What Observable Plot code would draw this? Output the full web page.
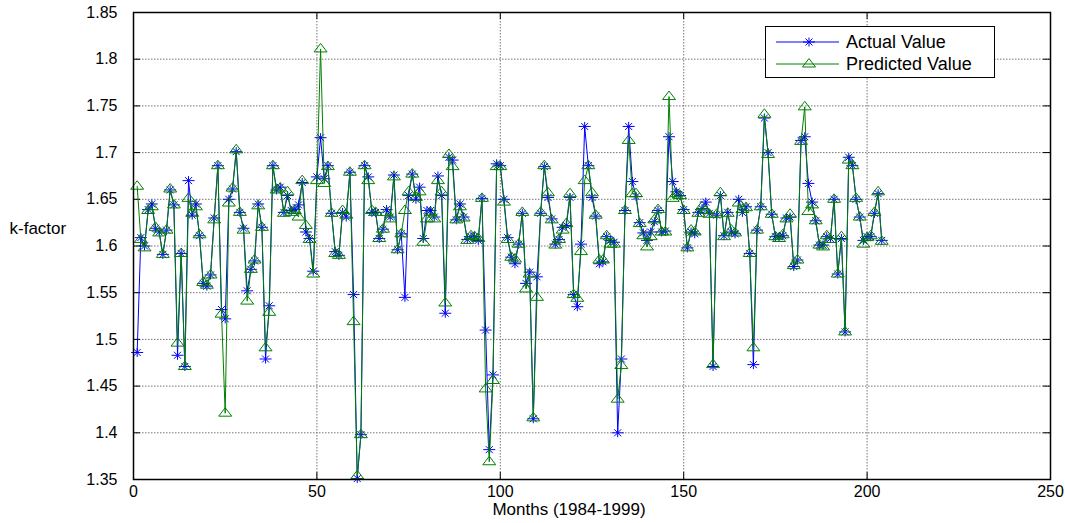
<!DOCTYPE html>
<html><head><meta charset="utf-8">
<script src="https://cdn.jsdelivr.net/npm/d3@7"></script>
<script src="https://cdn.jsdelivr.net/npm/@observablehq/plot@0.6"></script>
<style>
html,body{margin:0;padding:0;background:#fff;}
#wrap{position:relative;width:1065px;height:523px;overflow:hidden;}
#legend{position:absolute;left:765px;top:26px;width:228px;height:50px;border:1.5px solid #000;background:#fff;font-family:"Liberation Sans",Arial,sans-serif;font-size:18px;color:#000;}
#legend .row{position:absolute;left:0;height:20px;display:flex;align-items:center;}
#legend svg{display:block;}
#legend span{margin-left:6px;white-space:nowrap;}
</style></head><body><div id="wrap"></div>
<script>
// Series (months 1..204)
const actual = [
1.486,1.609,1.600,1.639,1.645,1.619,1.615,1.591,1.617,1.660,
1.644,1.483,1.592,1.471,1.670,1.633,1.645,1.611,1.560,1.557,
1.569,1.630,1.686,1.532,1.522,1.650,1.661,1.701,1.636,1.619,
1.552,1.575,1.584,1.645,1.620,1.479,1.536,1.686,1.660,1.663,
1.636,1.654,1.638,1.639,1.644,1.668,1.615,1.608,1.573,1.674,
1.716,1.672,1.686,1.635,1.594,1.590,1.636,1.631,1.679,1.548,
1.351,1.398,1.686,1.674,1.636,1.636,1.608,1.618,1.639,1.631,
1.676,1.596,1.613,1.545,1.654,1.677,1.650,1.663,1.608,1.638,
1.638,1.631,1.675,1.654,1.528,1.695,1.692,1.628,1.645,1.631,
1.607,1.610,1.610,1.606,1.651,1.510,1.382,1.462,1.688,1.686,
1.650,1.609,1.588,1.581,1.602,1.635,1.560,1.572,1.415,1.567,
1.635,1.685,1.652,1.629,1.602,1.607,1.620,1.622,1.652,1.548,
1.535,1.602,1.728,1.686,1.652,1.632,1.581,1.583,1.610,1.606,
1.604,1.400,1.479,1.638,1.728,1.669,1.653,1.625,1.614,1.606,
1.615,1.626,1.638,1.615,1.616,1.717,1.669,1.658,1.654,1.639,
1.598,1.615,1.613,1.636,1.640,1.647,1.635,1.471,1.633,1.654,
1.611,1.636,1.615,1.613,1.650,1.636,1.642,1.592,1.473,1.617,
1.642,1.737,1.700,1.634,1.610,1.610,1.611,1.630,1.631,1.578,
1.585,1.713,1.717,1.667,1.647,1.627,1.601,1.601,1.610,1.608,
1.650,1.570,1.608,1.508,1.695,1.686,1.650,1.631,1.606,1.610,
1.610,1.635,1.656,1.606
];
const predicted = [
1.664,1.607,1.598,1.638,1.642,1.620,1.614,1.591,1.617,1.661,
1.644,1.496,1.592,1.471,1.651,1.635,1.642,1.612,1.561,1.558,
1.569,1.628,1.686,1.527,1.421,1.646,1.662,1.703,1.636,1.617,
1.541,1.575,1.585,1.643,1.620,1.491,1.529,1.686,1.660,1.662,
1.635,1.658,1.636,1.638,1.631,1.670,1.622,1.607,1.570,1.670,
1.811,1.667,1.685,1.635,1.592,1.590,1.638,1.633,1.679,1.519,
1.354,1.398,1.686,1.670,1.638,1.636,1.608,1.618,1.636,1.629,
1.674,1.596,1.613,1.638,1.658,1.677,1.652,1.658,1.604,1.629,
1.636,1.629,1.670,1.658,1.539,1.698,1.685,1.628,1.642,1.630,
1.606,1.611,1.610,1.608,1.651,1.447,1.369,1.456,1.685,1.685,
1.647,1.607,1.588,1.586,1.602,1.636,1.554,1.570,1.416,1.545,
1.636,1.686,1.657,1.628,1.601,1.607,1.617,1.624,1.656,1.548,
1.544,1.594,1.670,1.686,1.657,1.633,1.585,1.585,1.611,1.602,
1.602,1.436,1.472,1.638,1.713,1.656,1.656,1.624,1.611,1.599,
1.610,1.628,1.639,1.615,1.615,1.760,1.651,1.656,1.654,1.638,
1.598,1.617,1.615,1.635,1.642,1.638,1.634,1.473,1.634,1.657,
1.610,1.635,1.617,1.614,1.646,1.639,1.641,1.592,1.491,1.617,
1.642,1.741,1.698,1.634,1.610,1.608,1.612,1.629,1.634,1.579,
1.585,1.712,1.749,1.637,1.644,1.627,1.601,1.599,1.611,1.607,
1.650,1.570,1.610,1.508,1.692,1.686,1.651,1.631,1.602,1.609,
1.611,1.636,1.658,1.605
];
const seriesNames = ["Actual Value", "Predicted Value"];
const seriesColors = ["#0000ff", "#008000"];
const xTicks = [0, 50, 100, 150, 200, 250];
const yTicks = [1.35, 1.4, 1.45, 1.5, 1.55, 1.6, 1.65, 1.7, 1.75, 1.8, 1.85];
const xLabel = "Months (1984-1999)";
const yLabel = "k-factor";

const dataA = actual.map((v, i) => ({month: i + 1, value: v}));
const dataP = predicted.map((v, i) => ({month: i + 1, value: v}));

// MATLAB-like markers
const starSym = {draw(c) {
  c.moveTo(-6, 0); c.lineTo(6, 0);
  c.moveTo(0, -4.5); c.lineTo(0, 4.5);
  c.moveTo(-3.5, -3.5); c.lineTo(3.5, 3.5);
  c.moveTo(-3.5, 3.5); c.lineTo(3.5, -3.5);
}};
const triSym = {draw(c) {
  c.moveTo(0, -5.5); c.lineTo(6.5, 3); c.lineTo(-6.5, 3); c.closePath();
}};

const x0 = xTicks[0], x1 = xTicks[xTicks.length - 1];
const y0 = yTicks[0], y1 = yTicks[yTicks.length - 1];
const tickLenY = (y1 - y0) * 7 / 467;
const tickLenX = (x1 - x0) * 7 / 917;
const sans = "'Liberation Sans', Arial, sans-serif";

const chart = Plot.plot({
  width: 1065, height: 523,
  marginLeft: 133, marginRight: 15, marginTop: 12, marginBottom: 44,
  x: {domain: [x0, x1]},
  y: {domain: [y0, y1]},
  style: {fontFamily: sans, fontSize: "16px", background: "#fff", color: "#000"},
  marks: [
    Plot.gridX(xTicks.slice(1, -1), {stroke: "#666", strokeOpacity: 0.9, strokeDasharray: "1.5,1.5"}),
    Plot.gridY(yTicks.slice(1, -1), {stroke: "#666", strokeOpacity: 0.9, strokeDasharray: "1.5,1.5"}),
    Plot.ruleX(xTicks, {y1: y0, y2: y0 + tickLenY, stroke: "#000"}),
    Plot.ruleX(xTicks, {y1: y1, y2: y1 - tickLenY, stroke: "#000"}),
    Plot.ruleY(yTicks, {x1: x0, x2: x0 + tickLenX, stroke: "#000"}),
    Plot.ruleY(yTicks, {x1: x1, x2: x1 - tickLenX, stroke: "#000"}),
    Plot.axisY({ticks: yTicks, anchor: "left", tickSize: 0, tickPadding: 16, label: null,
      tickFormat: d => String(+d.toFixed(2)), fontSize: 16}),
    Plot.axisX({ticks: xTicks, anchor: "bottom", tickSize: 0, tickPadding: 6, label: null,
      tickFormat: d => String(d), fontSize: 16}),
    Plot.text([yLabel], {frameAnchor: "left", dx: -124, dy: -17, textAnchor: "start", fontSize: 17}),
    Plot.text([xLabel], {frameAnchor: "bottom", dx: -23, dy: 35, fontSize: 17}),
    Plot.line(dataA, {x: "month", y: "value", stroke: seriesColors[0], strokeWidth: 1}),
    Plot.dot(dataA, {x: "month", y: "value", symbol: starSym, stroke: seriesColors[0], fill: "none", strokeWidth: 1, r: 5}),
    Plot.line(dataP, {x: "month", y: "value", stroke: seriesColors[1], strokeWidth: 1}),
    Plot.dot(dataP, {x: "month", y: "value", symbol: triSym, stroke: seriesColors[1], fill: "none", strokeWidth: 1, r: 5}),
    Plot.frame({stroke: "#000", strokeWidth: 1.5})
  ]
});
const wrap = document.getElementById("wrap");
wrap.appendChild(chart);

// Legend
const legend = document.createElement("div");
legend.id = "legend";
seriesNames.forEach((name, i) => {
  const row = document.createElement("div");
  row.className = "row";
  row.style.top = (5 + i * 22) + "px";
  const ns = "http://www.w3.org/2000/svg";
  const svg = document.createElementNS(ns, "svg");
  svg.setAttribute("width", "74"); svg.setAttribute("height", "20");
  const line = document.createElementNS(ns, "line");
  line.setAttribute("x1", "10"); line.setAttribute("x2", "73");
  line.setAttribute("y1", "10"); line.setAttribute("y2", "10");
  line.setAttribute("stroke", seriesColors[i]);
  svg.appendChild(line);
  const p = document.createElementNS(ns, "path");
  const path = d3.path();
  (i === 0 ? starSym : triSym).draw(path);
  p.setAttribute("d", path.toString());
  p.setAttribute("transform", "translate(43,10)");
  p.setAttribute("stroke", seriesColors[i]);
  p.setAttribute("fill", "none");
  svg.appendChild(p);
  row.appendChild(svg);
  const span = document.createElement("span");
  span.textContent = name;
  row.appendChild(span);
  legend.appendChild(row);
});
wrap.appendChild(legend);
</script></body></html>
